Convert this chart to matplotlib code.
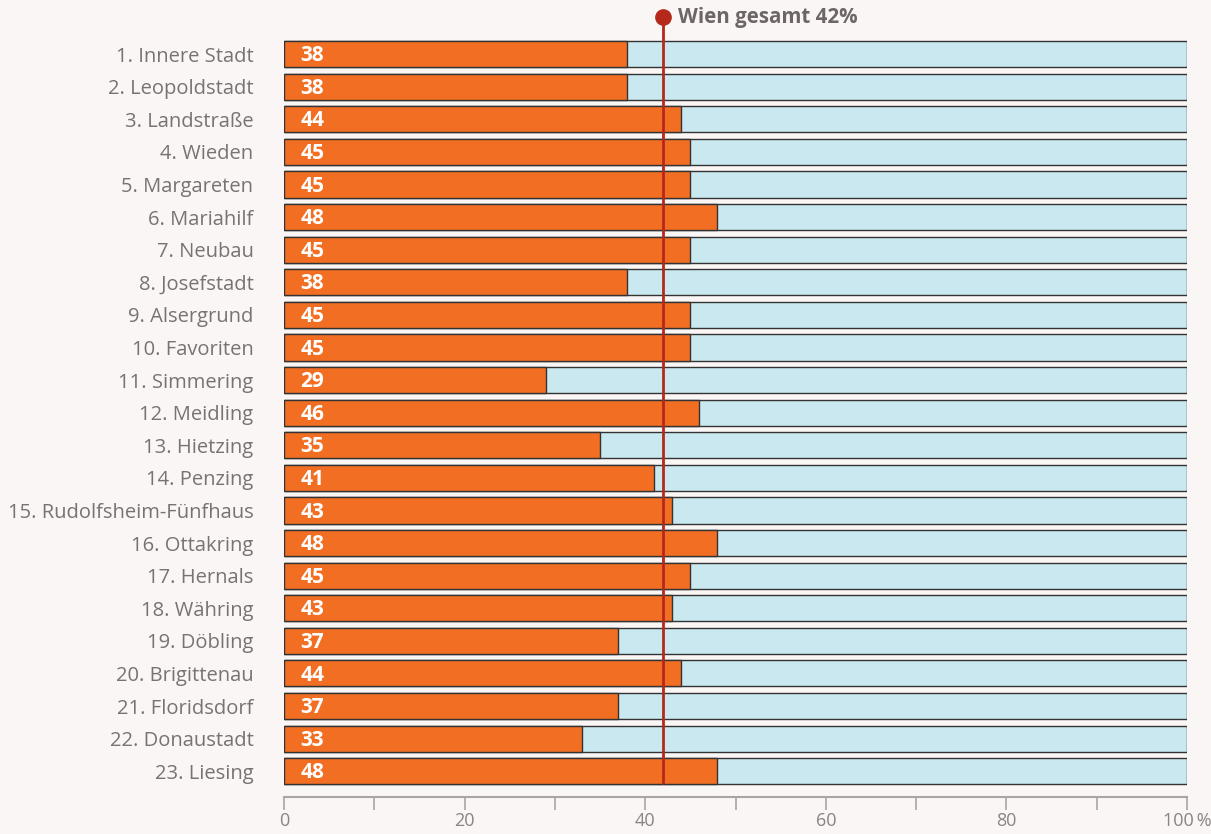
import matplotlib.pyplot as plt

districts = ["1. Innere Stadt", "2. Leopoldstadt", "3. Landstraße", "4. Wieden",
             "5. Margareten", "6. Mariahilf", "7. Neubau", "8. Josefstadt",
             "9. Alsergrund", "10. Favoriten", "11. Simmering", "12. Meidling",
             "13. Hietzing", "14. Penzing", "15. Rudolfsheim-Fünfhaus",
             "16. Ottakring", "17. Hernals", "18. Währing", "19. Döbling",
             "20. Brigittenau", "21. Floridsdorf", "22. Donaustadt", "23. Liesing"]
values = [38, 38, 44, 45, 45, 48, 45, 38, 45, 45, 29, 46, 35, 41, 43, 48, 45, 43,
          37, 44, 37, 33, 48]
total = 42
x_ticks = list(range(0, 101, 10))
x_labels = ["0", "", "20", "", "40", "", "60", "", "80", "", "100\u2009%"]

bg = "#f9f6f5"
orange = "#f26e22"
light = "#c9e8ef"
gray_txt = "#7a7272"
red = "#b5281c"

plt.rcParams['font.family'] = ['Open Sans', 'DejaVu Sans']

fig = plt.figure(figsize=(12.11, 8.34), dpi=100, facecolor=bg)
ax = fig.add_axes([284 / 1211, 37 / 834, 903 / 1211, 797 / 834], facecolor=bg)

ypos = list(range(len(districts)))
ax.barh(ypos, [100] * len(values), height=0.8, color=light, edgecolor="#333333", linewidth=1)
ax.barh(ypos, values, height=0.8, color=orange, edgecolor="#333333", linewidth=1)

for y, v in zip(ypos, values):
    ax.text(1.8, y + 0.05, str(v), color="white", fontsize=15, fontweight="bold",
            ha="left", va="center")

dot_y = -1.135
ax.plot([total, total], [dot_y, 22.39], color=red, linewidth=2, solid_capstyle="butt", zorder=4)
ax.plot([total], [dot_y], "o", color=red, markersize=11, zorder=5)
ax.text(total + 1.6, dot_y, "Wien gesamt %d%%" % total, color="#6e6666", fontsize=14.8,
        fontweight="bold", ha="left", va="center")

ax.set_xlim(0, 100)
ax.set_ylim(22.79, -1.66)
ax.set_yticks(ypos)
ax.set_yticklabels(districts, fontsize=14.5, color=gray_txt)
ax.tick_params(axis="y", length=0, pad=22)
ax.set_xticks(x_ticks)
ax.set_xticklabels(x_labels, fontsize=13, color="#8a8484")
ax.tick_params(axis="x", length=9, width=1.2, color="#aaa5a3", pad=2)

for s in ["top", "right", "left"]:
    ax.spines[s].set_visible(False)
ax.spines["bottom"].set_color("#aaa5a3")
ax.spines["bottom"].set_linewidth(1.5)

fig.savefig("out.png", dpi=100, facecolor=bg)
